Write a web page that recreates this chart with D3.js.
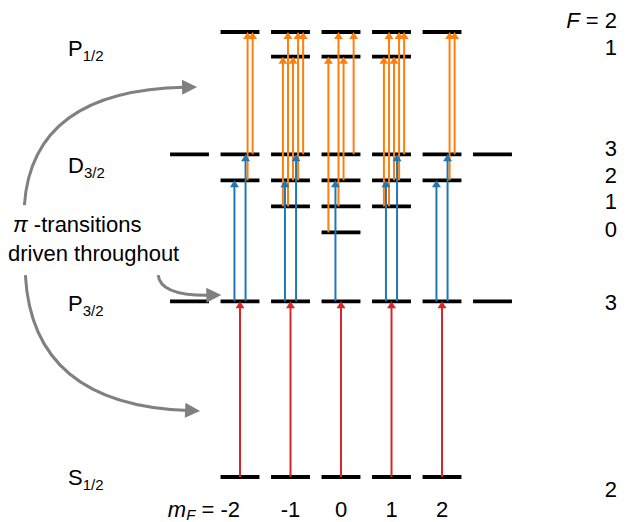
<!DOCTYPE html>
<html>
<head>
<meta charset="utf-8">
<script src="https://cdn.jsdelivr.net/npm/d3@7"></script>
<style>
  body { margin: 0; background: #fff; }
  text { font-family: "Liberation Sans", Arial, Helvetica, sans-serif; fill: #000; }
</style>
</head>
<body>
<div id="chart"></div>
<script>
// level scheme (energies in arbitrary units)
const levelTerm   = ["S1/2", "P3/2", "D3/2", "D3/2", "D3/2", "D3/2", "P1/2", "P1/2"];
const levelF      = [2, 3, 0, 1, 2, 3, 1, 2];
const levelEnergy = [0, 6.75, 9.4, 10.4, 11.4, 12.4, 16.15, 17.1];

// red: S1/2 F=2 -> P3/2 F=3
const redM = [-2, -1, 0, 1, 2];

// blue: P3/2 F=3 -> D3/2 F'
const blueM  = [-2, -2, -1, -1, 0, 1, 1, 2, 2];
const blueTo = [ 2,  3,  2,  3, 2, 2, 3, 2, 3];

// orange: D3/2 F -> P1/2 F'
const orangeM    = [-2, -2, -1, -1, -1, -1, -1, 0, 0, 0, 0, 1, 1, 1, 1, 1, 2, 2];
const orangeFrom = [ 2,  3,  1,  1,  2,  2,  3, 0, 1, 2, 3, 1, 1, 2, 2, 3, 2, 3];
const orangeTo   = [ 2,  2,  1,  2,  1,  2,  2, 1, 2, 1, 2, 1, 2, 1, 2, 2, 2, 2];

const termLabels = ["P1/2", "D3/2", "P3/2", "S1/2"];
const mFTicks = [-2, -1, 0, 1, 2];

const width = 629, height = 522;

const x = d3.scaleLinear().domain([-3, 3]).range([189.5, 492.5]);
const y = d3.scaleLinear().domain([0, 17.1]).range([477, 32]);

const levelY = (term, F) => {
    const i = levelTerm.findIndex((t, j) => t === term && levelF[j] === F);
    return y(levelEnergy[i]);
};

const svg = d3.select("#chart").append("svg")
    .attr("width", width)
    .attr("height", height)
    .style("background", "#fff");

// --- Zeeman sublevels ---
const bars = [];
levelTerm.forEach((t, i) => {
    d3.range(-levelF[i], levelF[i] + 1).forEach(m => bars.push({ m, E: levelEnergy[i] }));
});
const halfBar = 0.385;

svg.append("g")
    .attr("stroke", "#000")
    .attr("stroke-width", 3.8)
    .selectAll("line")
    .data(bars)
    .join("line")
    .attr("x1", d => x(d.m - halfBar))
    .attr("x2", d => x(d.m + halfBar))
    .attr("y1", d => y(d.E))
    .attr("y2", d => y(d.E));

// --- transitions ---
const orangeSlot = { "01": -0.25, "11": -0.15, "12": -0.05, "21": 0.05, "22": 0.15, "32": 0.25 };
const transitions = [];
redM.forEach(m => transitions.push({
    color: "#d62728", xm: m, y1: levelY("S1/2", 2), y2: levelY("P3/2", 3)
}));
blueM.forEach((m, i) => transitions.push({
    color: "#1f77b4", xm: m + (blueTo[i] === 2 ? -0.11 : 0.11),
    y1: levelY("P3/2", 3), y2: levelY("D3/2", blueTo[i])
}));
orangeM.forEach((m, i) => transitions.push({
    color: "#ff7f0e", xm: m + orangeSlot[`${orangeFrom[i]}${orangeTo[i]}`],
    y1: levelY("D3/2", orangeFrom[i]), y2: levelY("P1/2", orangeTo[i])
}));

const headLen = 7, headW = 9;
const tg = svg.append("g");
tg.selectAll("line")
    .data(transitions)
    .join("line")
    .attr("stroke", d => d.color)
    .attr("stroke-width", 2)
    .attr("x1", d => x(d.xm))
    .attr("x2", d => x(d.xm))
    .attr("y1", d => d.y1)
    .attr("y2", d => d.y2 + headLen - 1);
tg.selectAll("path")
    .data(transitions)
    .join("path")
    .attr("fill", d => d.color)
    .attr("d", d => {
        const cx = x(d.xm), ty = d.y2;
        return `M${cx},${ty}L${cx - headW / 2},${ty + headLen}L${cx + headW / 2},${ty + headLen}Z`;
    });

// --- gray curved annotation arrows (start, control, tip) in (mF, energy) units ---
const grayArrows = [
    [[-6.27, 10.45], [-6.11, 14.87], [-2.85, 14.99]],
    [[-6.25, 7.76], [-6.11, 2.77], [-2.79, 2.54]],
    [[-3.62, 7.76], [-3.58, 6.96], [-2.37, 6.99]]
];
const gHead = 15, gHeadW = 15;
const ga = svg.append("g");
grayArrows.forEach(pts => {
    const [a, c, b] = pts.map(p => [x(p[0]), y(p[1])]);
    const dx = b[0] - c[0], dy = b[1] - c[1];
    const len = Math.hypot(dx, dy);
    const ux = dx / len, uy = dy / len;
    const e = [b[0] - ux * gHead * 0.8, b[1] - uy * gHead * 0.8];
    ga.append("path")
        .attr("d", `M${a[0]},${a[1]}Q${c[0]},${c[1]} ${e[0]},${e[1]}`)
        .attr("fill", "none")
        .attr("stroke", "#808080")
        .attr("stroke-width", 3);
    const bx = b[0] - ux * gHead, by = b[1] - uy * gHead;
    ga.append("path")
        .attr("d", `M${b[0]},${b[1]}L${bx - uy * gHeadW / 2},${by + ux * gHeadW / 2}L${bx + uy * gHeadW / 2},${by - ux * gHeadW / 2}Z`)
        .attr("fill", "#808080");
});

// --- text ---
const fs = 22, sub = 15;
const termBase = [56, 173, 311, 485];
termLabels.forEach((t, i) => {
    const txt = svg.append("text").attr("x", 68).attr("y", termBase[i]).attr("font-size", fs);
    txt.append("tspan").text(t[0]);
    txt.append("tspan").attr("font-size", sub).attr("dy", 5).text(t.slice(1));
});

const pi = svg.append("text").attr("x", 13).attr("y", 232).attr("font-size", fs);
pi.append("tspan").attr("font-style", "italic").text("π");
pi.append("tspan").text(" -transitions");
svg.append("text").attr("x", 8).attr("y", 261).attr("font-size", fs).text("driven throughout");

// F labels on the right
const fLab = svg.append("text").attr("x", 617).attr("y", 28).attr("font-size", fs).attr("text-anchor", "end");
fLab.append("tspan").attr("font-style", "italic").text("F");
fLab.append("tspan").text(" = 2");
const rightLabels = ["1", "3", "2", "1", "0", "3", "2"];
const rightBase = [55, 156, 183, 209, 237, 310, 497];
svg.append("g")
    .attr("font-size", fs)
    .attr("text-anchor", "end")
    .selectAll("text")
    .data(rightLabels)
    .join("text")
    .attr("x", 617)
    .attr("y", (d, i) => rightBase[i])
    .text(d => d);

// mF labels at the bottom
mFTicks.forEach((m, i) => {
    if (i === 0) {
        const t = svg.append("text").attr("x", x(m)).attr("y", 517).attr("font-size", fs).attr("text-anchor", "end");
        t.append("tspan").attr("font-style", "italic").text("m");
        t.append("tspan").attr("font-style", "italic").attr("font-size", sub).attr("dy", 3).text("F");
        t.append("tspan").attr("dy", -3).text(` = ${m}`);
    } else {
        svg.append("text").attr("x", x(m)).attr("y", 517).attr("font-size", fs)
            .attr("text-anchor", "middle").text(m);
    }
});
</script>
</body>
</html>
